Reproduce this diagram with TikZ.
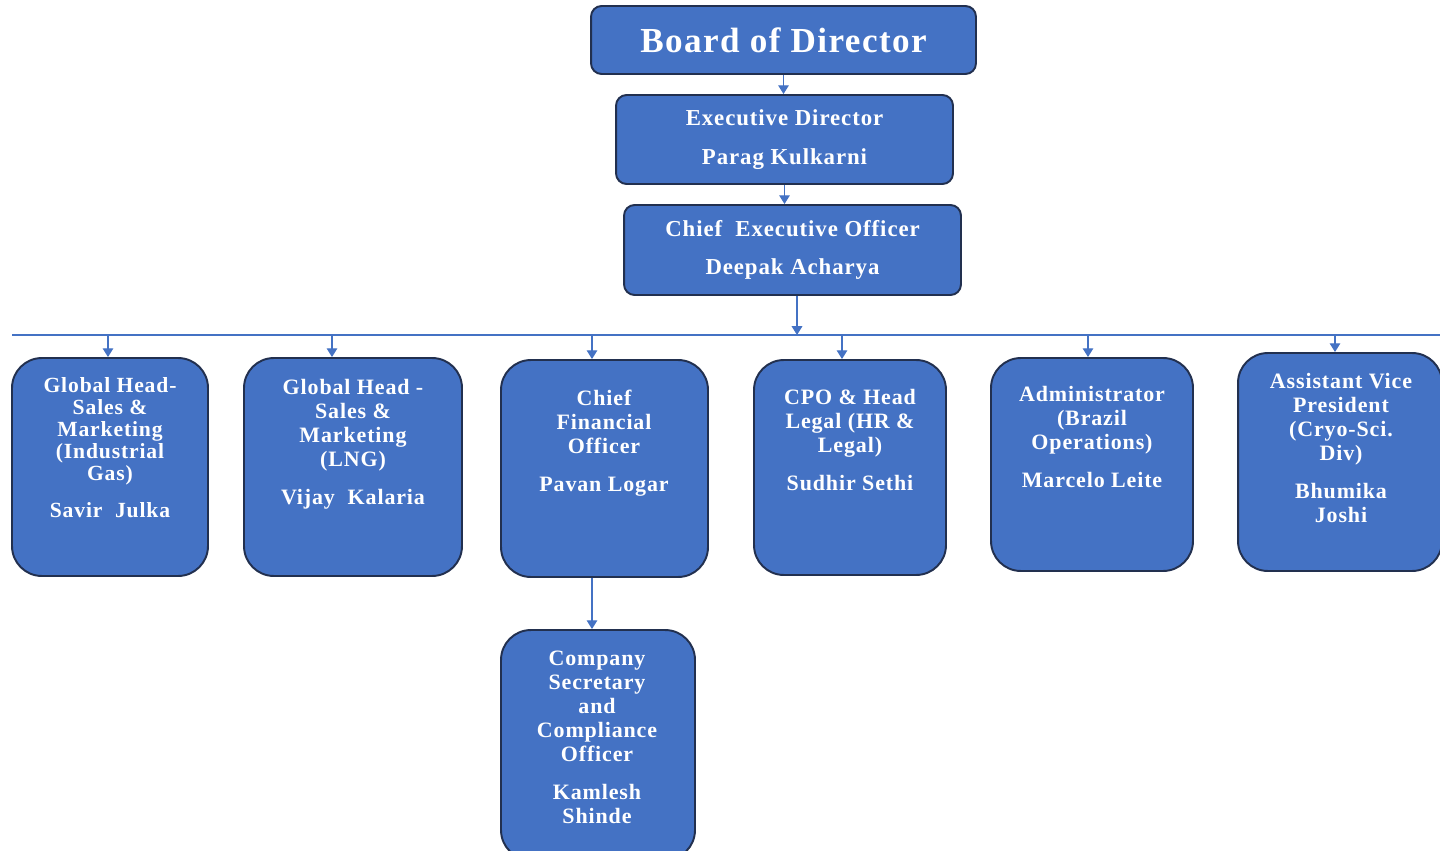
\documentclass[tikz,border=0pt]{standalone}
\usepackage{fontspec}
\setmainfont[LetterSpace=4]{Liberation Serif}
\usepackage{tikz}
\usetikzlibrary{arrows.meta}

\definecolor{orgblue}{HTML}{4472C4}
\definecolor{orgedge}{HTML}{22304F}

\tikzset{
    topbox/.style={draw=orgedge, fill=orgblue, line width=1.1pt, rounded corners=6pt,
                   text=white, font=\bfseries\fontsize{13}{22}\selectfont, align=center, inner sep=0pt},
    unitbox/.style={draw=orgedge, fill=orgblue, line width=1.1pt, rounded corners=17pt, inner sep=0pt},
    lbl/.style={text=white, font=\bfseries\fontsize{12.5}{13.6}\selectfont, align=center,
                inner sep=0pt, anchor=north},
    conn/.style={draw=orgblue, line width=0.8pt, -{Triangle[width=6pt,length=5pt]}},
}

\begin{document}
\begin{tikzpicture}[x=0.02cm, y=-0.02cm]

            \useasboundingbox (0,0) rectangle (1440,851);
            \clip (0,0) rectangle (1440,851);

% ---- Top of the chart ----
            \node[topbox, minimum width=7.70cm, minimum height=1.36cm] (board) at (783.5,40)
                {\fontsize{20}{22}\selectfont Board of Director};
            \node[topbox, minimum width=6.74cm, minimum height=1.78cm] (exec) at (784.5,139.5)
                {Executive Director\\Parag Kulkarni};
            \node[topbox, minimum width=6.74cm, minimum height=1.80cm] (ceo) at (792.5,250)
                {Chief\ \ Executive Officer\\Deepak Acharya};

            \draw[conn] (board.south) -- (board.south |- exec.north);
            \draw[conn] (exec.south) -- (exec.south |- ceo.north);

% ---- Bus line ----
            \coordinate (busL) at (12,335);
            \coordinate (busR) at (1440,335);
            \draw[orgblue, line width=0.8pt] (busL) -- (busR);

            \coordinate (t0) at (797,335);
            \draw[conn] (t0 |- ceo.south) -- (t0);

% ---- Units (boxes, then texts) ----
            \node[unitbox, minimum width=3.92cm, minimum height=4.36cm] (b1) at (110,467) {};
            \node[unitbox, minimum width=4.36cm, minimum height=4.36cm] (b2) at (353,467) {};
            \node[unitbox, minimum width=4.14cm, minimum height=4.34cm] (cfo) at (604.5,468.5) {};
            \node[unitbox, minimum width=3.84cm, minimum height=4.30cm] (cpo) at (850,467.5) {};
            \node[unitbox, minimum width=4.04cm, minimum height=4.26cm] (adm) at (1092,464.5) {};
            \node[unitbox, minimum width=4.08cm, minimum height=4.36cm] (avp) at (1340,462) {};
            \node[unitbox, minimum width=3.88cm, minimum height=4.60cm] (cs) at (598,745) {};

            \node[lbl, font=\bfseries\fontsize{12.3}{12.6}\selectfont] (b1t) at (110,377)
                {Global Head-\\Sales \&\\Marketing\\(Industrial\\Gas)\\[8pt]Savir\ \ Julka};
            \node[lbl] (b2t) at (353,379)
                {Global Head -\\Sales \&\\Marketing\\(LNG)\\[8pt]Vijay\ \ Kalaria};
            \node[lbl] (cfot) at (604,390)
                {Chief\\Financial\\Officer\\[8pt]Pavan Logar};
            \node[lbl] (cpot) at (850,389)
                {CPO \& Head\\Legal (HR \&\\Legal)\\[8pt]Sudhir Sethi};
            \node[lbl] (admt) at (1092,386)
                {Administrator\\(Brazil\\Operations)\\[8pt]Marcelo Leite};
            \node[lbl] (avpt) at (1341,373)
                {Assistant Vice\\President\\(Cryo-Sci.\\Div)\\[8pt]Bhumika\\Joshi};
            \node[lbl] (cst) at (597,651)
                {Company\\Secretary\\and\\Compliance\\Officer\\[8pt]Kamlesh\\Shinde};

% ---- Drops from the bus line ----
            \coordinate (t1) at (108,335);
            \coordinate (t2) at (332,335);
            \coordinate (t3) at (592,335);
            \coordinate (t4) at (842,335);
            \coordinate (t5) at (1088,335);
            \coordinate (t6) at (1335,335);

            \draw[conn] (t1) -- (t1 |- b1.north);
            \draw[conn] (t2) -- (t2 |- b2.north);
            \draw[conn] (t3) -- (t3 |- cfo.north);
            \draw[conn] (t4) -- (t4 |- cpo.north);
            \draw[conn] (t5) -- (t5 |- adm.north);
            \draw[conn] (t6) -- (t6 |- avp.north);

% ---- CFO to company secretary ----
            \draw[conn] (t3 |- cfo.south) -- (t3 |- cs.north);

\end{tikzpicture}
\end{document}
